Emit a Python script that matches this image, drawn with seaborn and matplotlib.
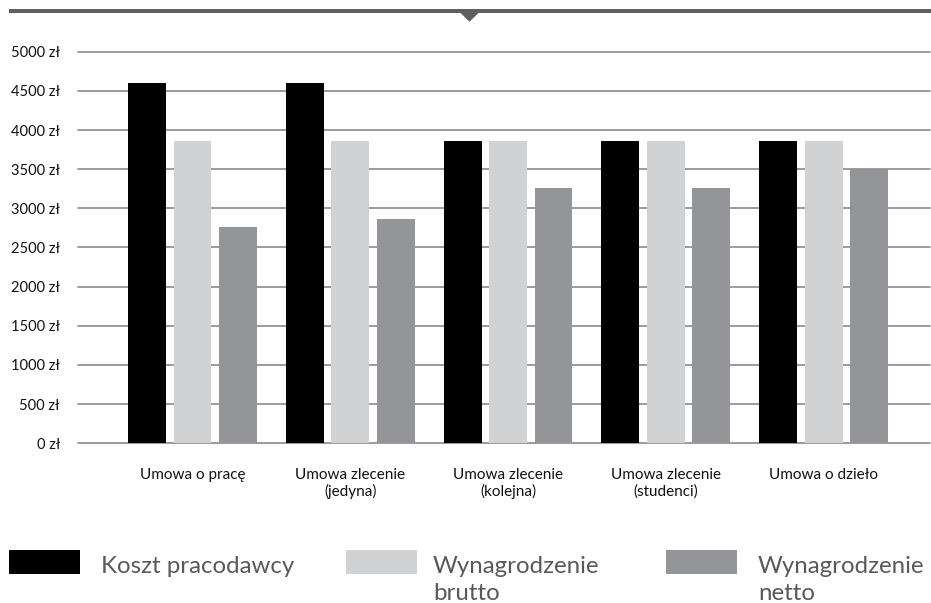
import matplotlib
matplotlib.use("Agg")
import matplotlib.pyplot as plt
import seaborn as sns
import pandas as pd
from matplotlib.patches import Rectangle, Polygon

# ---- data ----
categories = ["Umowa o pracę", "Umowa zlecenie\n(jedyna)", "Umowa zlecenie\n(kolejna)",
              "Umowa zlecenie\n(studenci)", "Umowa o dzieło"]
series_names = ["Koszt pracodawcy", "Wynagrodzenie brutto", "Wynagrodzenie netto"]
legend_labels = ["Koszt pracodawcy", "Wynagrodzenie\nbrutto", "Wynagrodzenie\nnetto"]
koszt_pracodawcy = [4600, 4600, 3860, 3860, 3860]
wynagrodzenie_brutto = [3860, 3860, 3860, 3860, 3860]
wynagrodzenie_netto = [2765, 2865, 3260, 3260, 3500]
colors = ["#000000", "#d1d2d4", "#939598"]
yticks = list(range(0, 5001, 500))
ytick_labels = [f"{v} zł" for v in yticks]

rows = []
for name, vals in zip(series_names, [koszt_pracodawcy, wynagrodzenie_brutto, wynagrodzenie_netto]):
    for c, v in zip(categories, vals):
        rows.append({"kategoria": c, "seria": name, "wartosc": v})
df = pd.DataFrame(rows)

sns.set_style("white")
plt.rcParams['font.family'] = ['Lato', 'DejaVu Sans']

W, H = 931, 603
fig = plt.figure(figsize=(W / 100, H / 100), dpi=100)
fig.patch.set_facecolor("white")

ax_left, ax_right, ax_top, ax_bottom = 78, 930, 51.7, 443.3
ax = fig.add_axes([ax_left / W, 1 - ax_bottom / H, (ax_right - ax_left) / W, (ax_bottom - ax_top) / H])

sns.barplot(data=df, x="kategoria", y="wartosc", hue="seria", order=categories,
            hue_order=series_names, palette=colors, saturation=1, width=0.865, gap=0.165,
            errorbar=None, linewidth=0, legend=False, ax=ax)

ax.set_ylim(0, 5000)
ax.set_xlim(-0.7258, 4.675)
ax.set_yticks(yticks)
ax.set_yticklabels(ytick_labels)
ax.set_xlabel("")
ax.set_ylabel("")
for s in ax.spines.values():
    s.set_visible(False)
ax.set_axisbelow(True)
ax.yaxis.grid(True, color="#8a8a8a", linewidth=1.2)
ax.xaxis.grid(False)
for gl in ax.get_ygridlines():
    gl.set_clip_on(False)
ax.tick_params(axis="y", length=0, pad=13, labelsize=10.5, labelcolor="#111111")
ax.tick_params(axis="x", length=0, pad=18, labelsize=11, labelcolor="#111111")
for lab in ax.get_xticklabels():
    lab.set_linespacing(1.15)

# ---- top decoration ----
fig.patches.append(Rectangle((9 / W, 1 - 13 / H), (W - 9) / W, 4 / H,
                             transform=fig.transFigure, color="#5f5f5f", lw=0))
fig.patches.append(Polygon([(460 / W, 1 - 12.5 / H), (479 / W, 1 - 12.5 / H), (469.5 / W, 1 - 21.7 / H)],
                           closed=True, transform=fig.transFigure, color="#5f5f5f", lw=0))

# ---- legend ----
rect_x = [9, 346, 666]
text_x = [101, 433, 758]
for i, (lab, col) in enumerate(zip(legend_labels, colors)):
    fig.patches.append(Rectangle((rect_x[i] / W, 1 - 574 / H), 71 / W, 24 / H,
                                 transform=fig.transFigure, color=col, lw=0))
    for j, line in enumerate(lab.split("\n")):
        fig.text(text_x[i] / W, 1 - (572.7 + 27.5 * j) / H, line, fontsize=17.3, color="#595959",
                 ha="left", va="baseline")

fig.savefig("out.png", dpi=100, facecolor="white")
